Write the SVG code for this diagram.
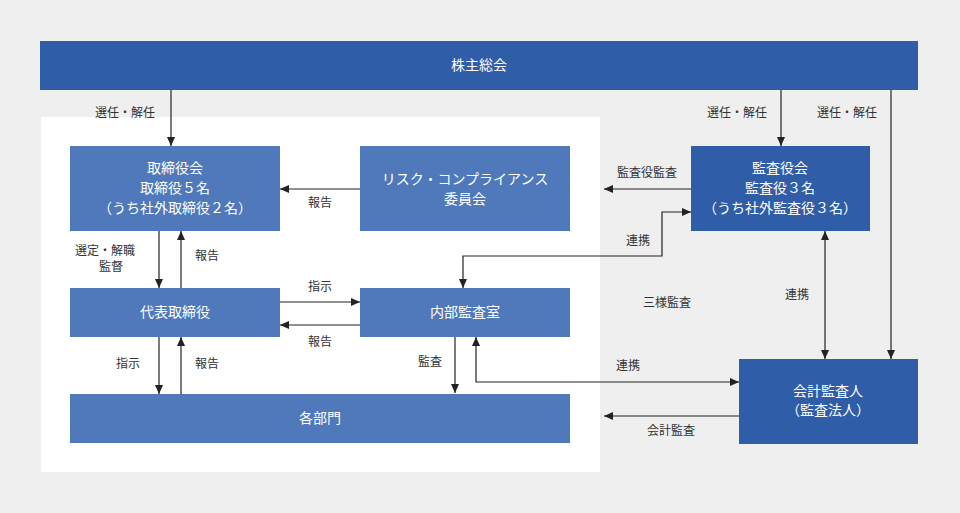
<svg xmlns="http://www.w3.org/2000/svg" width="960" height="513" viewBox="0 0 960 513">
<style>
.t{font-family:"Noto Sans CJK JP","Noto Sans",sans-serif;fill:#fff;font-size:14px;text-anchor:middle}
.l{font-family:"Noto Sans CJK JP","Noto Sans",sans-serif;fill:#333;font-size:12px;text-anchor:middle}
.a{fill:#4f79ba}.d{fill:#2f5da8}
.c{stroke:#222;stroke-width:1.2;fill:none;marker-end:url(#m)}
.b{marker-start:url(#s)}
</style>
<defs>
<marker id="m" markerWidth="10" markerHeight="10" refX="9" refY="5" orient="auto" markerUnits="userSpaceOnUse"><path d="M0,1 L9,5 L0,9 Z" fill="#222"/></marker>
<marker id="s" markerWidth="10" markerHeight="10" refX="1" refY="5" orient="auto" markerUnits="userSpaceOnUse"><path d="M10,1 L1,5 L10,9 Z" fill="#222"/></marker>
</defs>
<rect width="960" height="513" fill="#efefef"/>
<rect x="41" y="117" width="559" height="355" fill="#fff"/>
<g id="shareholders"><rect class="d" x="40" y="41" width="878" height="49"/><text class="t" x="479" y="70">株主総会</text></g>
<g id="board"><rect class="a" x="70" y="146" width="210" height="85"/><text class="t" x="175" y="173">取締役会</text><text class="t" x="175" y="193">取締役５名</text><text class="t" x="175" y="213">（うち社外取締役２名）</text></g>
<g id="risk"><rect class="a" x="360" y="146" width="210" height="85"/><text class="t" x="465" y="184">リスク・コンプライアンス</text><text class="t" x="465" y="204">委員会</text></g>
<g id="auditboard"><rect class="d" x="691" y="146" width="179" height="85"/><text class="t" x="780" y="173">監査役会</text><text class="t" x="780" y="193">監査役３名</text><text class="t" x="780" y="213">（うち社外監査役３名）</text></g>
<g id="ceo"><rect class="a" x="70" y="288" width="210" height="49"/><text class="t" x="175" y="317">代表取締役</text></g>
<g id="internal"><rect class="a" x="360" y="288" width="210" height="49"/><text class="t" x="465" y="317">内部監査室</text></g>
<g id="depts"><rect class="a" x="70" y="394" width="500" height="49"/><text class="t" x="320" y="423">各部門</text></g>
<g id="accountant"><rect class="d" x="739" y="359" width="179" height="85"/><text class="t" x="828" y="396">会計監査人</text><text class="t" x="828" y="415">（監査法人）</text></g>
<g id="connectors">
<path class="c" d="M171,90 V146"/><path class="c" d="M781,90 V146"/><path class="c" d="M891,90 V359"/>
<path class="c" d="M360,189 H280"/><path class="c" d="M691,189 H604"/>
<path class="c" d="M159,231 V288"/><path class="c" d="M181,288 V231"/>
<path class="c" d="M280,302 H360"/><path class="c" d="M360,325 H280"/>
<path class="c" d="M159,337 V394"/><path class="c" d="M181,394 V337"/>
<path class="c" d="M455,337 V393"/>
<path class="c b" d="M463,288 V256 H662 V212 H691"/>
<path class="c b" d="M476,337 V382 H739"/>
<path class="c b" d="M825,231 V359"/>
<path class="c" d="M739,416 H604"/>
</g>
<g id="labels">
<text class="l" x="125" y="117">選任・解任</text><text class="l" x="737" y="117">選任・解任</text><text class="l" x="847" y="117">選任・解任</text>
<text class="l" x="320" y="207">報告</text><text class="l" x="647" y="177">監査役監査</text>
<text class="l" x="105" y="255">選定・解職</text><text class="l" x="111" y="271">監督</text><text class="l" x="207" y="260">報告</text>
<text class="l" x="320" y="291">指示</text><text class="l" x="320" y="346">報告</text>
<text class="l" x="128" y="368">指示</text><text class="l" x="207" y="368">報告</text><text class="l" x="430" y="366">監査</text>
<text class="l" x="638" y="245">連携</text><text class="l" x="667" y="307">三様監査</text><text class="l" x="797" y="299">連携</text>
<text class="l" x="628" y="370">連携</text><text class="l" x="671" y="435">会計監査</text>
</g>
</svg>
